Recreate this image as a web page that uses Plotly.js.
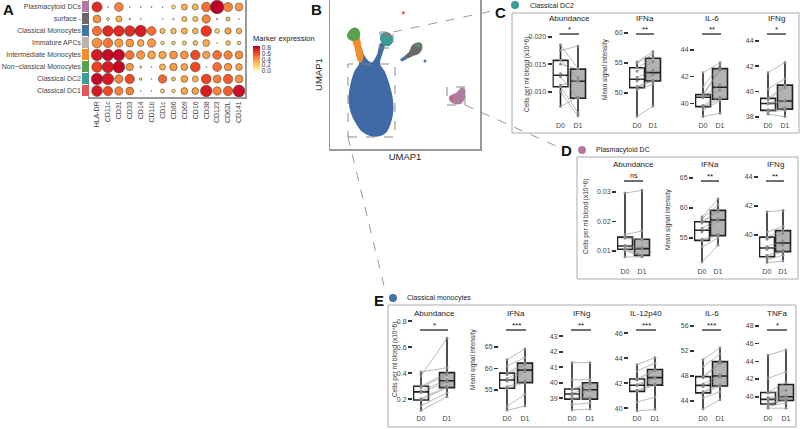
<!DOCTYPE html>
<html><head><meta charset="utf-8">
<script src="https://cdn.plot.ly/plotly-3.0.1.min.js"></script>
<style>html,body{margin:0;padding:0;background:#fff}#plot{width:800px;height:429px}</style>
</head><body><div id="plot"></div>
<script>
const W=800,H=429;
const FONT='Liberation Sans, Arial, sans-serif';

// ---------- Panel A data ----------
const markers=['HLA-DR','CD11c','CD31','CD33','CD14','CD11b','CD1c','CD86','CD69','CD16','CD38','CD123','CD62L','CD141'];
const cellTypes=['Plasmacytoid DCs','surface -','Classical Monocytes','Immature APCs','Intermediate Monocytes','Non\u2212classical Monocytes','Classical DC2','Classical DC1'];
const cellColors=['#b07aa1','#6d6865','#4572a7','#bcb2ac','#f28e2b','#59a14f','#3d9b96','#e15759'];
const expression=[
 [0.70,0.05,0.45,0.05,0.05,0.05,0.05,0.15,0.30,0.30,0.50,0.90,0.45,0.38],
 [0.40,0.10,0.30,0.05,0.05,0.00,0.05,0.08,0.25,0.25,0.45,0.08,0.25,0.05],
 [0.50,0.70,0.70,0.70,0.75,0.50,0.25,0.28,0.30,0.28,0.65,0.20,0.35,0.30],
 [0.42,0.48,0.38,0.38,0.32,0.38,0.18,0.20,0.20,0.25,0.32,0.05,0.25,0.20],
 [0.75,0.82,0.82,0.50,0.40,0.35,0.35,0.40,0.40,0.60,0.35,0.50,0.45,0.40],
 [0.62,0.75,0.82,0.40,0.15,0.02,0.30,0.38,0.35,0.60,0.05,0.50,0.40,0.35],
 [0.82,0.75,0.45,0.60,0.12,0.02,0.52,0.25,0.35,0.30,0.62,0.45,0.55,0.40],
 [0.75,0.60,0.45,0.45,0.05,0.05,0.22,0.18,0.35,0.35,0.75,0.45,0.55,0.80]];
const fraction=[
 [0.75,0.08,0.65,0.08,0.08,0.08,0.08,0.28,0.45,0.45,0.70,1.00,0.68,0.58],
 [0.58,0.22,0.45,0.12,0.08,0.00,0.06,0.12,0.38,0.38,0.62,0.12,0.30,0.06],
 [0.70,0.78,0.78,0.78,0.85,0.65,0.38,0.42,0.45,0.42,0.78,0.35,0.48,0.42],
 [0.72,0.70,0.62,0.58,0.50,0.62,0.27,0.27,0.30,0.35,0.50,0.06,0.35,0.27],
 [0.85,0.85,0.85,0.65,0.62,0.58,0.55,0.58,0.58,0.70,0.55,0.65,0.62,0.58],
 [0.78,0.85,0.88,0.55,0.15,0.06,0.45,0.55,0.50,0.72,0.06,0.65,0.55,0.50],
 [0.85,0.85,0.62,0.70,0.20,0.06,0.62,0.30,0.50,0.45,0.72,0.58,0.70,0.58],
 [0.80,0.70,0.62,0.58,0.06,0.06,0.30,0.27,0.50,0.50,0.85,0.62,0.70,0.88]];

// ---------- Panel B data (UMAP cluster outlines, UMAP units) ----------
const umapMonoX=[30,25,20.7,19.3,21.7,26.7,33.3,45,55,60,62.7,61.7,58.3,54,49.3,51.7,54,50.7,48.3,45,41.7,37.3,33.3,30,26,26.7];
const umapMonoY=[85.7,77.3,62.3,49,35.7,25.7,17.3,13,16.3,25.7,39,52.3,65.7,77.3,85,95.7,104,105,95.7,89,85.7,88.3,94,102.3,104,95.7];
const umapInterX=[22.7,28.3,30.7,32.7,30.7,28.3,26,23.3];
const umapInterY=[110.7,111.7,102.3,92.3,87.3,89,99,107.3];
const umapNonClX=[18.3,21.7,26.7,29,28.3,25,20,17.7];
const umapNonClY=[115.7,119.7,120.3,117.3,110.7,109,109.7,113];
const umapDC2X=[51,54,58.3,61.7,62,59.3,55,51.7];
const umapDC2Y=[113,115.7,115.7,112.3,107.3,104,104,107.3];
const umapSurfX=[76.7,80,83.3,90,91.7,88.3,83.3,78];
const umapSurfY=[92.3,97.3,104,105.7,102.3,95.7,94,91.5];
const umapTailX=[71,74,79,80,76,72];
const umapTailY=[89.5,91.5,95.5,94,90.5,88.5];
const umapPdcX=[120,126.7,131.7,134.3,133.3,130,123.3,120];
const umapPdcY=[52.3,55.7,60.7,59.7,49,45.7,46.3,49];
const umapDotX=[73.3,95,57.3,121.7,86,89];
const umapDotY=[136.3,88,114.7,50.7,104,103.5];
const umapDotC=['#e15759','#4572a7','#e15759','#e15759','#3d9b96','#59a14f'];

// ---------- Panels C, D, E data (per patient, D0 and D1) ----------
const cAbD0=[0.0073,0.0100,0.0109,0.0112,0.0127,0.0133,0.0150,0.0157,0.0175,0.0185];
const cAbD1=[0.0090,0.0056,0.0062,0.0120,0.0088,0.0118,0.0141,0.0125,0.0183,0.0142];
const cIfnaD0=[46.1,50.5,50.9,51.1,52.0,52.6,53.6,54.2,55.0,55.2];
const cIfnaD1=[47.8,51.5,52.0,52.1,53.0,53.8,55.2,55.8,56.5,56.9];
const cIl6D0=[39.0,39.5,39.75,39.85,40.4,40.5,40.6,40.65,41.25,42.3];
const cIl6D1=[39.25,40.2,40.3,40.45,41.0,41.4,42.5,42.6,42.9,43.05];
const cIfngD0=[38.2,38.4,38.5,38.55,39.0,39.1,39.35,39.45,40.2,41.5];
const cIfngD1=[38.0,38.5,38.6,38.7,39.2,39.3,40.3,40.5,41.0,42.3];

const dAbD0=[0.0080,0.0100,0.0106,0.0108,0.0115,0.0119,0.0143,0.0147,0.0155,0.0296];
const dAbD1=[0.0080,0.0082,0.0085,0.0086,0.0105,0.0111,0.0138,0.0140,0.0168,0.0306];
const dIfnaD0=[51.0,53.5,54.6,54.8,56.0,56.6,57.5,57.7,58.2,58.5];
const dIfnaD1=[53.8,55.0,55.4,55.6,57.8,58.2,59.4,59.6,60.5,61.5];
const dIfngD0=[38.1,38.3,38.5,38.6,39.0,39.2,39.7,39.85,40.2,41.6];
const dIfngD1=[38.2,38.6,38.85,38.95,39.3,39.6,40.1,40.3,40.6,41.7];

const eAbD0=[0.113,0.15,0.195,0.205,0.25,0.265,0.29,0.30,0.38,0.41];
const eAbD1=[0.22,0.25,0.29,0.30,0.335,0.35,0.39,0.405,0.67,0.443];
const eIfnaD0=[50.3,51.2,55.4,55.8,57.0,57.6,58.5,58.9,60.5,62.0];
const eIfnaD1=[51.3,54.0,56.7,57.1,59.3,59.9,60.8,61.2,62.5,64.5];
const eIfngD0=[38.25,38.6,38.95,39.05,39.2,39.35,39.55,39.6,40.2,41.3];
const eIfngD1=[38.3,38.7,38.95,39.05,39.5,39.6,39.9,40.0,40.2,41.3];
const eIl12D0=[39.8,40.5,41.35,41.45,41.8,41.9,42.25,42.35,43.0,43.5];
const eIl12D1=[39.9,40.9,41.85,41.95,42.4,42.5,43.0,43.1,43.6,44.05];
const eIl6D0=[42.7,44.5,45.3,45.5,46.3,46.7,47.7,47.9,49.5,50.6];
const eIl6D1=[44.2,45.5,46.4,46.6,47.8,48.2,50.0,50.3,51.5,52.5];
const eTnfaD0=[38.7,38.9,39.15,39.25,39.5,39.7,39.9,40.4,40.5,42.1,44.7];
const eTnfaD1=[38.7,39.3,39.55,39.65,39.9,40.0,40.1,40.7,41.6,42.8,45.3];

const dayLabels=['D0','D1'];

// ---------- helpers ----------
const fx=p=>p/W, fy=p=>1-p/H;
const traces=[]; const layout={
  width:W,height:H,margin:{l:0,r:0,t:0,b:0},paper_bgcolor:'#fff',plot_bgcolor:'rgba(0,0,0,0)',
  showlegend:false,font:{family:FONT,color:'#333'},shapes:[],annotations:[]};
function ann(o){layout.annotations.push(Object.assign({xref:'paper',yref:'paper',showarrow:false,xanchor:'center',yanchor:'middle',font:{size:7,color:'#333',family:FONT}},o));}
function pline(x0,y0,x1,y1,opt){layout.shapes.push(Object.assign({type:'line',xref:'paper',yref:'paper',x0:fx(x0),y0:fy(y0),x1:fx(x1),y1:fy(y1),line:{color:'#999',width:1}},opt||{}));}
function prect(x0,y0,x1,y1,opt){layout.shapes.push(Object.assign({type:'rect',xref:'paper',yref:'paper',x0:fx(x0),y0:fy(y1),x1:fx(x1),y1:fy(y0),line:{color:'#aaa',width:1}},opt||{}));}

// ---------- Panel A ----------
const colorscale=[[0,'#ffffb2'],[0.25,'#fecc5c'],[0.5,'#fd8d3c'],[0.75,'#f03b20'],[1,'#bd0026']];
{
  const xs=[],ys=[],cs=[],ss=[];
  for(let r=0;r<cellTypes.length;r++)for(let c=0;c<markers.length;c++){
    xs.push(c);ys.push(r);cs.push(expression[r][c]);ss.push(fraction[r][c]*13.5);}
  traces.push({type:'scatter',mode:'markers',x:xs,y:ys,xaxis:'x',yaxis:'y',hoverinfo:'skip',
    marker:{size:ss,color:cs,colorscale:colorscale,cmin:0,cmax:0.85,line:{color:'#333',width:0.5},opacity:1,
      showscale:true,colorbar:{x:fx(253),xanchor:'left',y:fy(71),yanchor:'bottom',len:39/H,lenmode:'fraction',
        thickness:7,xpad:0,ypad:0,outlinewidth:0,ticks:'',tickvals:[0,0.2,0.4,0.6,0.8],ticktext:['0.0','0.2','0.4','0.6','0.8'],
        tickfont:{size:6.5,color:'#333'},title:{text:'Marker expression',side:'top',font:{size:7.5,color:'#222'}}}}});
  const zs=cellTypes.map((_,i)=>[i]);
  const csStrip=cellColors.map((c,i)=>[i/(cellColors.length-1),c]);
  traces.push({type:'heatmap',z:zs,x:[0],y:cellTypes.map((_,i)=>i),xaxis:'x2',yaxis:'y2',colorscale:csStrip,showscale:false,ygap:1,hoverinfo:'skip'});
  const yr=[7.5,-0.583];
  layout.xaxis={domain:[fx(89),fx(245)],range:[-0.733,13.55],anchor:'y',tickmode:'array',tickvals:markers.map((_,i)=>i),ticktext:markers,
    tickangle:-90,tickfont:{size:7,color:'#444'},ticks:'',showgrid:false,zeroline:false,showline:true,mirror:true,linecolor:'#999',linewidth:1.5};
  layout.yaxis={domain:[fy(97),fy(0)],range:yr,anchor:'x',showticklabels:false,ticks:'',showgrid:false,zeroline:false,showline:true,mirror:true,linecolor:'#999',linewidth:1.5};
  layout.xaxis2={domain:[fx(82),fx(89)],range:[-0.5,0.5],anchor:'y2',visible:false};
  layout.yaxis2={domain:[fy(97),fy(0)],range:yr,anchor:'x2',tickmode:'array',tickvals:cellTypes.map((_,i)=>i),ticktext:cellTypes,
    ticks:'',tickfont:{size:7,color:'#444'},showgrid:false,zeroline:false,showline:false};
  ann({x:fx(1),y:fy(10),text:'<b>A</b>',xanchor:'left',font:{size:15,color:'#111'}});
}

// ---------- Panel B ----------
{
  const poly=(x,y,c)=>traces.push({type:'scatter',mode:'lines',x:x.concat([x[0]]),y:y.concat([y[0]]),fill:'toself',fillcolor:c,
    line:{color:c,width:1.5,shape:'spline'},xaxis:'x3',yaxis:'y3',hoverinfo:'skip'});
  poly(umapMonoX,umapMonoY,'#3f6aa6');
  poly(umapInterX,umapInterY,'#f28e2b');
  poly(umapNonClX,umapNonClY,'#59a14f');
  poly(umapDC2X,umapDC2Y,'#3d9b96');
  poly(umapTailX,umapTailY,'#4572a7');
  poly(umapSurfX,umapSurfY,'#6d6865');
  poly(umapPdcX,umapPdcY,'#b07aa1');
  traces.push({type:'scatter',mode:'markers',x:umapDotX,y:umapDotY,xaxis:'x3',yaxis:'y3',hoverinfo:'skip',marker:{size:3,color:umapDotC}});
  layout.xaxis3={domain:[fx(330),fx(480)],range:[0,150],anchor:'y3',showticklabels:false,ticks:'',showgrid:false,zeroline:false,
    showline:true,mirror:true,linecolor:'#999',linewidth:1.5,title:{text:'UMAP1',font:{size:9.5,color:'#222'},standoff:4}};
  layout.yaxis3={domain:[fy(149),fy(0)],range:[0,149],anchor:'x3',showticklabels:false,ticks:'',showgrid:false,zeroline:false,
    showline:true,mirror:true,linecolor:'#999',linewidth:1.5,title:{text:'UMAP1',font:{size:9.5,color:'#222'},standoff:4}};
  const box=(x0,y0,x1,y1)=>layout.shapes.push({type:'rect',xref:'x3',yref:'y3',x0:x0,x1:x1,y0:y0,y1:y1,line:{color:'#888',width:1,dash:'dash'}});
  box(18,12,65,85); box(50,101,63,117); box(117,44,135,62);
  ann({x:fx(309),y:fy(10),text:'<b>B</b>',xanchor:'left',font:{size:15,color:'#111'}});
  // connectors
  pline(393,32,492,11,{line:{color:'#999',width:1,dash:'dash'}});
  pline(465,105,556,146,{line:{color:'#999',width:1,dash:'dash'}});
  pline(348,137,385,290,{line:{color:'#999',width:1,dash:'dash'}});
}

// ---------- Panels C, D, E ----------
const groups={
  C:{top:26,bot:119.5,titleY:18,barY:34},
  D:{top:168,bot:265.5,titleY:165,barY:181},
  E:{top:318,bot:412.5,titleY:313,barY:330}};
const panels=[
 {g:'C',title:'Abundance',d0:cAbD0,d1:cAbD1,p0:560.5,p1:578,tA:[0.010,91.7],tB:[0.020,36.7],tv:[0.010,0.015,0.020],fmt:'.3f',sig:'*'},
 {g:'C',title:'IFNa',d0:cIfnaD0,d1:cIfnaD1,p0:637,p1:653,tA:[50,93],tB:[60,33],tv:[50,55,60],fmt:'d',sig:'**'},
 {g:'C',title:'IL-6',d0:cIl6D0,d1:cIl6D1,p0:703,p1:720,tA:[40,103.3],tB:[44,50],tv:[40,42,44],fmt:'d',sig:'**'},
 {g:'C',title:'IFNg',d0:cIfngD0,d1:cIfngD1,p0:768,p1:785,tA:[38,116.7],tB:[44,41],tv:[38,40,42,44],fmt:'d',sig:'*'},
 {g:'D',title:'Abundance',d0:dAbD0,d1:dAbD1,p0:625,p1:642,tA:[0.01,251],tB:[0.03,192],tv:[0.01,0.02,0.03],fmt:'.2f',sig:'ns'},
 {g:'D',title:'IFNa',d0:dIfnaD0,d1:dIfnaD1,p0:702,p1:718,tA:[55,238],tB:[65,178],tv:[55,60,65],fmt:'d',sig:'**'},
 {g:'D',title:'IFNg',d0:dIfngD0,d1:dIfngD1,p0:767,p1:783,tA:[40,235],tB:[44,177],tv:[40,42,44],fmt:'d',sig:'**'},
 {g:'E',title:'Abundance',d0:eAbD0,d1:eAbD1,p0:421,p1:447,tA:[0.2,399.3],tB:[0.8,321.3],tv:[0.2,0.4,0.6,0.8],fmt:'.1f',sig:'*'},
 {g:'E',title:'IFNa',d0:eIfnaD0,d1:eIfnaD1,p0:507,p1:525,tA:[55,390],tB:[65,346.7],tv:[55,60,65],fmt:'d',sig:'***'},
 {g:'E',title:'IFNg',d0:eIfngD0,d1:eIfngD1,p0:572,p1:590,tA:[39,398.3],tB:[43,336.3],tv:[39,40,41,42,43],fmt:'d',sig:'**'},
 {g:'E',title:'IL-12p40',d0:eIl12D0,d1:eIl12D1,p0:637,p1:655,tA:[40,408.3],tB:[46,333.3],tv:[40,42,44,46],fmt:'d',sig:'***'},
 {g:'E',title:'IL-6',d0:eIl6D0,d1:eIl6D1,p0:703,p1:720,tA:[44,401],tB:[56,326],tv:[44,48,52,56],fmt:'d',sig:'***'},
 {g:'E',title:'TNFa',d0:eTnfaD0,d1:eTnfaD1,p0:768,p1:786,tA:[40,396.7],tB:[48,326],tv:[40,42,44,46,48],fmt:'d',sig:'*'}];

panels.forEach((p,i)=>{
  const n=4+i, xa='x'+n, ya='y'+n, G=groups[p.g];
  const left=p.p0-8, right=p.p1+12, us=1/(p.p1-p.p0);
  const s=(p.tB[0]-p.tA[0])/(p.tB[1]-p.tA[1]);
  const yr=[p.tA[0]+(G.bot-p.tA[1])*s, p.tA[0]+(G.top-p.tA[1])*s];
  const bw=15*us;
  [[p.d0,0,'#ffffff'],[p.d1,1,'#b3b3b3']].forEach(([d,x0,fc])=>{
    traces.push({type:'box',y:d,x0:x0,xaxis:xa,yaxis:ya,boxpoints:false,fillcolor:fc,width:bw,whiskerwidth:0,
      line:{color:'#222',width:1.6},hoverinfo:'skip'});
  });
  const lx=[],ly=[];
  p.d0.forEach((v,k)=>{lx.push(0,1,null);ly.push(v,p.d1[k],null);});
  traces.push({type:'scatter',mode:'lines',x:lx,y:ly,xaxis:xa,yaxis:ya,line:{color:'rgba(140,140,140,0.75)',width:0.8},hoverinfo:'skip',cliponaxis:false});
  traces.push({type:'scatter',mode:'markers',x:p.d0.map(()=>0),y:p.d0,xaxis:xa,yaxis:ya,marker:{size:2.8,color:'#8a8a8a'},hoverinfo:'skip',cliponaxis:false});
  traces.push({type:'scatter',mode:'markers',x:p.d1.map(()=>1),y:p.d1,xaxis:xa,yaxis:ya,marker:{size:2.8,color:'#8a8a8a'},hoverinfo:'skip',cliponaxis:false});
  layout['xaxis'+n]={domain:[fx(left),fx(right)],range:[(left-p.p0)*us,(right-p.p0)*us],anchor:ya,tickmode:'array',tickvals:[0,1],ticktext:dayLabels,
    ticks:'',showline:false,showgrid:false,zeroline:false,tickfont:{size:7,color:'#444'}};
  layout['yaxis'+n]={domain:[fy(G.bot),fy(G.top)],range:yr,anchor:xa,tickmode:'array',tickvals:p.tv,tickformat:p.fmt,
    ticks:'outside',ticklen:4,tickwidth:1.6,tickcolor:'#333',showline:false,showgrid:false,zeroline:false,tickfont:{size:7,color:'#444'}};
  ann({x:fx((p.p0+p.p1)/2),y:fy(G.titleY),text:p.title,font:{size:8,color:'#222',family:FONT}});
  pline(p.p0-1,G.barY,p.p1+1,G.barY,{line:{color:'#111',width:1.2}});
  ann({x:fx((p.p0+p.p1)/2),y:fy(G.barY+(p.sig==='ns'?-0.5:2)),yanchor:'bottom',text:p.sig,font:{size:p.sig==='ns'?7:8,color:'#111',family:FONT}});
});

// group frames, titles, y labels
prect(512,13,799,133); prect(577,157,798,279); prect(388,305,796,427);
const dot=(cx,cy,c)=>layout.shapes.push({type:'circle',xref:'paper',yref:'paper',x0:fx(cx-4),x1:fx(cx+4),y0:fy(cy+4),y1:fy(cy-4),fillcolor:c,line:{width:0}});
ann({x:fx(493),y:fy(12),text:'<b>C</b>',xanchor:'left',font:{size:15,color:'#111'}});
dot(515,5,'#3d9b96'); ann({x:fx(528),y:fy(5),text:'Classical DC2',xanchor:'left',font:{size:7,color:'#222'}});
ann({x:fx(559),y:fy(151),text:'<b>D</b>',xanchor:'left',font:{size:15,color:'#111'}});
dot(582,150,'#b07aa1'); ann({x:fx(594),y:fy(150),text:'Plasmacytoid DC',xanchor:'left',font:{size:7,color:'#222'}});
ann({x:fx(372),y:fy(300),text:'<b>E</b>',xanchor:'left',font:{size:15,color:'#111'}});
dot(393,298,'#4572a7'); ann({x:fx(405),y:fy(298),text:'Classical monocytes',xanchor:'left',font:{size:7,color:'#222'}});
const ylab=(x,y,t)=>ann({x:fx(x),y:fy(y),text:t,textangle:-90,font:{size:6.5,color:'#333'}});
ylab(527,75,'Cells per ml blood (x10^6)'); ylab(605,70,'Mean signal intensity');
ylab(586,217,'Cells per ml blood (x10^6)'); ylab(668,220,'Mean signal intensity');
ylab(395,360,'Cells per ml blood (x10^6)'); ylab(473,360,'Mean signal intensity');

Plotly.newPlot('plot',traces,layout,{staticPlot:true,displayModeBar:false});
</script></body></html>
